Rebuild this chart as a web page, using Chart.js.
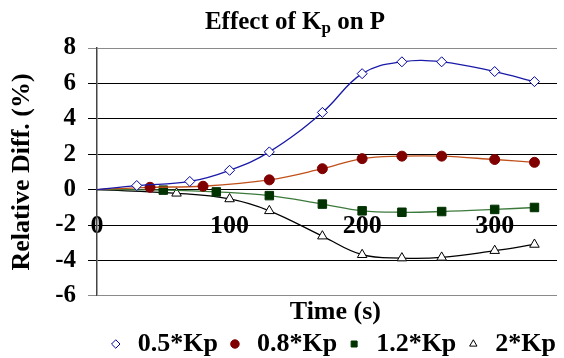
<!DOCTYPE html>
<html>
<head>
<meta charset="utf-8">
<script src="https://cdn.jsdelivr.net/npm/chart.js@4.4.0/dist/chart.umd.min.js"></script>
<style>
  html, body { margin: 0; padding: 0; background: #fff; }
  #wrap { position: relative; width: 564px; height: 358px; }
</style>
</head>
<body>
<div id="wrap"><canvas id="chart"></canvas></div>
<script>
// values
const seriesNames = ['0.5*Kp', '0.8*Kp', '1.2*Kp', '2*Kp'];

const time05 = [0, 30, 70, 100, 130, 170, 200, 230, 260, 300, 330];
const diff05 = [0, 0.23, 0.46, 1.09, 2.13, 4.36, 6.55, 7.22, 7.22, 6.67, 6.1];

const time08 = [0, 40, 80, 130, 170, 200, 230, 260, 300, 330];
const diff08 = [0, 0.13, 0.19, 0.55, 1.18, 1.75, 1.89, 1.89, 1.7, 1.54];

const time12 = [0, 50, 90, 130, 170, 200, 230, 260, 300, 330];
const diff12 = [0, -0.03, -0.13, -0.34, -0.82, -1.2, -1.28, -1.24, -1.12, -1.01];

const time2 = [0, 60, 100, 130, 170, 200, 230, 260, 300, 330];
const diff2 = [0, -0.21, -0.53, -1.2, -2.63, -3.68, -3.87, -3.83, -3.45, -3.1];

const xTicks = [0, 100, 200, 300];
const yTicks = [-6, -4, -2, 0, 2, 4, 6, 8];

const serif = "'Liberation Serif', 'Times New Roman', serif";

function pairs(xs, ys) {
    return xs.map((x, i) => ({ x: x, y: ys[i] }));
}

function series(label, xs, ys, style) {
    return {
        label: label,
        data: pairs(xs, ys),
        borderColor: style.line,
        borderWidth: 1.3,
        tension: 0.4,
        pointStyle: style.point,
        pointRadius: ctx => ctx.dataIndex === 0 ? 0 : style.radius,
        pointBackgroundColor: style.fill,
        pointBorderColor: style.stroke,
        pointBorderWidth: 1,
        fill: false
    };
}

// title with a subscript p, drawn on the canvas
const titlePlugin = {
    id: 'subTitle',
    afterDraw(chart) {
        const c = chart.ctx;
        c.save();
        c.fillStyle = '#000';
        c.textBaseline = 'alphabetic';
        const big = 'bold 25px ' + serif;
        const small = 'bold 17px ' + serif;
        const parts = [['Effect of K', big, 0], ['p', small, 4], [' on P', big, 0]];
        let w = 0;
        parts.forEach(p => { c.font = p[1]; w += c.measureText(p[0]).width; });
        let x = 295 - w / 2;
        parts.forEach(p => {
            c.font = p[1];
            c.fillText(p[0], x, 29 + p[2]);
            x += c.measureText(p[0]).width;
        });
        c.restore();
    }
};

const chart = new Chart(document.getElementById('chart'), {
    type: 'line',
    data: {
        datasets: [
            series(seriesNames[0], time05, diff05, { line: '#1a1aa8', point: 'rectRot', radius: 5, fill: '#fff', stroke: '#0000a0' }),
            series(seriesNames[1], time08, diff08, { line: '#c0501a', point: 'circle', radius: 5, fill: '#800000', stroke: '#800000' }),
            series(seriesNames[2], time12, diff12, { line: '#3c7a3c', point: 'rect', radius: 6, fill: '#003300', stroke: '#003300' }),
            series(seriesNames[3], time2, diff2, { line: '#000', point: 'triangle', radius: 5.5, fill: '#fff', stroke: '#000' })
        ]
    },
    options: {
        responsive: true,
        maintainAspectRatio: false,
        devicePixelRatio: 1,
        animation: false,
        layout: { padding: { top: 48, right: 0, left: 0, bottom: -9 } },
        scales: {
            x: {
                type: 'linear',
                position: { y: 0 },
                min: 0,
                max: 347,
                afterBuildTicks: scale => { scale.ticks = xTicks.map(v => ({ value: v })); },
                grid: { display: false, drawTicks: false },
                border: { display: false },
                ticks: {
                    padding: 21,
                    color: '#000',
                    font: { family: serif, size: 26, weight: 'bold' }
                }
            },
            y: {
                min: -6,
                max: 8,
                afterBuildTicks: scale => { scale.ticks = yTicks.map(v => ({ value: v })); },
                afterFit: scale => { scale.width = 97; },
                grid: {
                    color: ctx => (ctx.tick && (ctx.tick.value === 8 || ctx.tick.value === -6)) ? '#8a8a8a' : '#000',
                    lineWidth: 1,
                    tickLength: 9
                },
                border: { display: true, color: '#444', width: 1.5 },
                ticks: {
                    padding: 12,
                    color: '#000',
                    font: { family: serif, size: 25, weight: 'bold' }
                },
                title: {
                    display: true,
                    text: 'Relative Diff. (%)',
                    color: '#000',
                    padding: { top: 7, bottom: 0 },
                    font: { family: serif, size: 26, weight: 'bold' }
                }
            }
        },
        plugins: {
            title: { display: false },
            tooltip: { enabled: false },
            legend: {
                position: 'bottom',
                align: 'end',
                title: {
                    display: true,
                    text: 'Time (s)',
                    color: '#000',
                    position: 'center',
                    padding: { top: 3, bottom: -7 },
                    font: { family: serif, size: 26, weight: 'bold' }
                },
                labels: {
                    usePointStyle: true,
                    boxWidth: 18,
                    boxHeight: 6,
                    padding: 8,
                    color: '#000',
                    font: { family: serif, size: 26, weight: 'bold' }
                }
            }
        }
    },
    plugins: [titlePlugin]
});
</script>
</body>
</html>
